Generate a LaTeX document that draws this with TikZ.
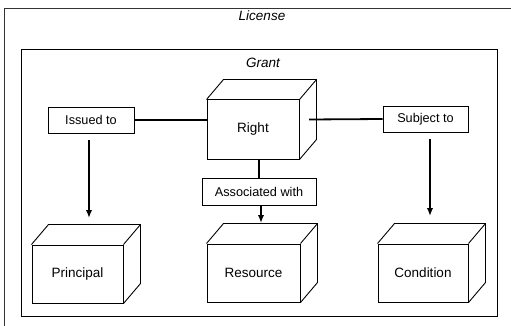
\documentclass[tikz,border=0pt]{standalone}
\usepackage{fontspec}
\setmainfont{Liberation Sans}
\usetikzlibrary{calc,arrows.meta}
\newcommand\cubefaces[1]{%
  \draw[line width=0.9pt,line join=round] (#1.north west) -- ++(17,-20) -- ($(#1.north east)+(17,-20)$) -- (#1.north east)
    (#1.south east) -- ++(17,-20) -- ($(#1.north east)+(17,-20)$);}
\begin{document}
\begin{tikzpicture}[x=1pt,y=-1pt,
  cubefront/.style={draw, line width=1pt, minimum width=91pt, minimum height=58pt, inner sep=0pt, font=\fontsize{13.5}{15}\selectfont},
  lbl/.style={draw, line width=0.8pt, inner sep=0pt, minimum height=26pt, font=\fontsize{12.7}{14}\selectfont},
  ttl/.style={font=\fontsize{13.5}{15}\selectfont\itshape},
  conn/.style={line width=1.8pt},
  arr/.style={line width=1.8pt, -{Latex[length=8pt,width=6.5pt]}},
]
\useasboundingbox (0,0) rectangle (511,326);
\begin{scope}
\clip (0,0) rectangle (511,326);
\draw[line width=0.8pt, black!80] (4,8) rectangle (530,340);
\end{scope}
\node[ttl] (license) at (262,16) {License};
\draw[line width=0.9pt] (21,49) rectangle (497,316);
\node[ttl] (grant) at (263,63) {Grant};

% cubes
\node[cubefront, minimum width=92pt, minimum height=59pt] (right) at (253,129.5) {Right};
\cubefaces{right}
\node[cubefront] (principal) at (77.5,274) {Principal};
\cubefaces{principal}
\node[cubefront, minimum width=93pt] (resource) at (253.5,273) {Resource};
\cubefaces{resource}
\node[cubefront, minimum width=90pt] (condition) at (423,273) {Condition};
\cubefaces{condition}

% labels
\node[lbl, minimum width=86pt] (issued) at (91,120) {Issued to};
\node[lbl, minimum width=85pt] (subject) at (425.5,119) {Subject to};
\node[lbl, minimum width=114pt, minimum height=27pt] (assoc) at (259,191.5) {Associated with};

% connectors
\coordinate (rside) at (309,119.5);
\draw[conn] (issued.east) -- (issued.east -| right.west);
\draw[conn] (rside) -- (subject.west);
\draw[conn] (assoc.north) -- (assoc.north |- right.south);

\coordinate (pt) at (89,218);
\coordinate (rt) at (261,223);
\coordinate (ct) at (430,216);
\draw[arr, shorten <=7pt] (issued.south -| pt) -- (pt);
\draw[arr] (assoc.south -| rt) -- (rt);
\draw[arr, shorten <=7pt] (subject.south -| ct) -- (ct);
\end{tikzpicture}
\end{document}
